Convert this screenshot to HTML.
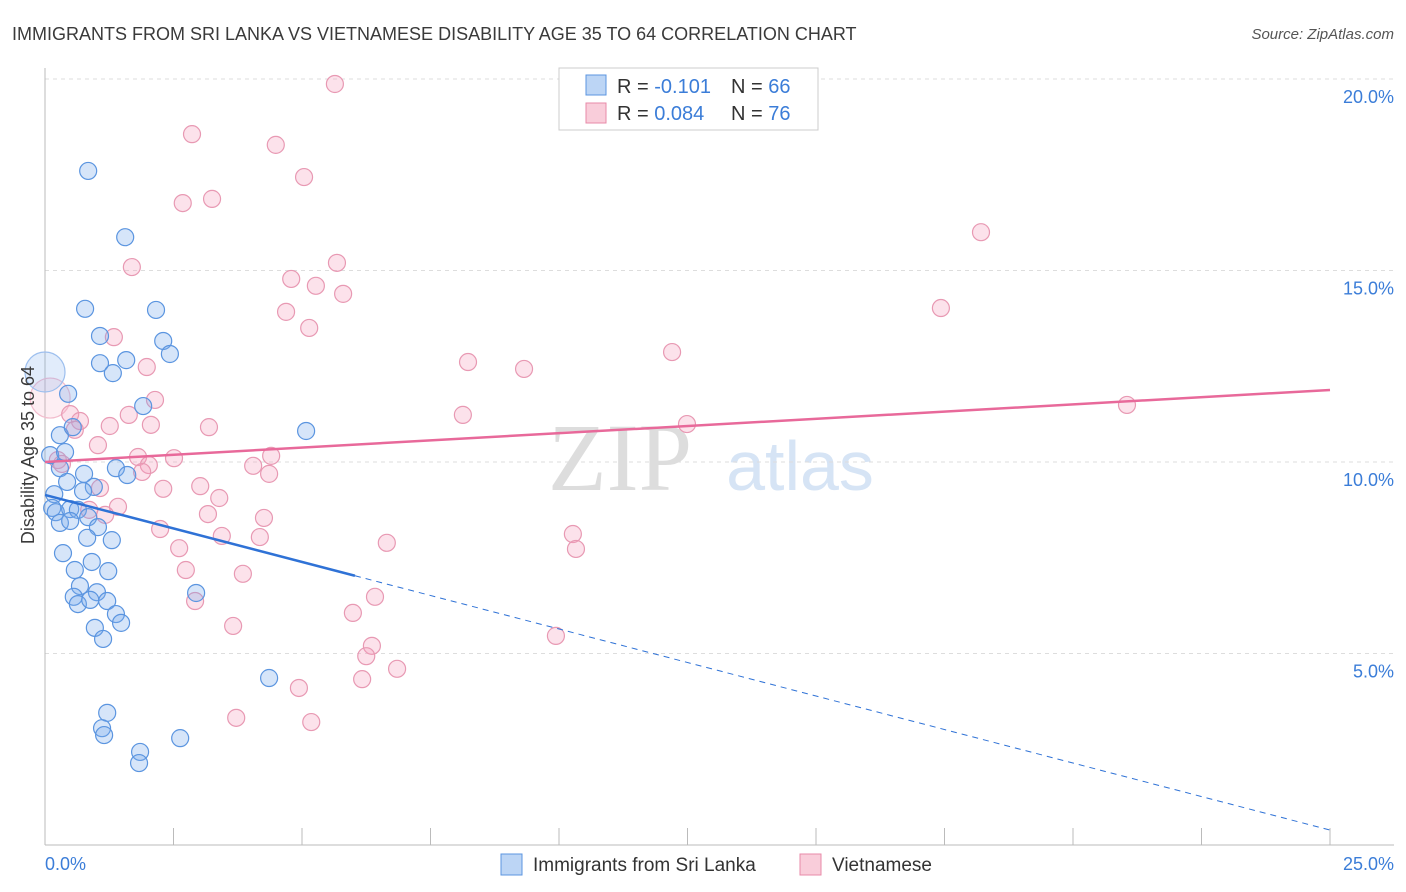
<!DOCTYPE html>
<html><head><meta charset="utf-8"><style>
body{margin:0;background:#fff;font-family:"Liberation Sans",sans-serif}
svg{display:block}
</style></head><body>
<svg width="1406" height="892" id="chart">
<text x="12" y="40" font-size="18" fill="#3a3a3a">IMMIGRANTS FROM SRI LANKA VS VIETNAMESE DISABILITY AGE 35 TO 64 CORRELATION CHART</text>
<text x="1394" y="39" font-size="15" fill="#555" font-style="italic" text-anchor="end">Source: ZipAtlas.com</text>
<text x="620" y="490" font-size="96" fill="#ddd" font-family="Liberation Serif,serif" text-anchor="middle">ZIP</text>
<text x="800" y="490" font-size="70" fill="#d6e4f5" text-anchor="middle">atlas</text>
<g id="grid"></g><g id="pts"></g><g id="lines"></g>
<text transform="translate(34,455) rotate(-90)" font-size="18" fill="#3a3a3a" text-anchor="middle">Disability Age 35 to 64</text>
<text x="45" y="870" font-size="18" fill="#3b7dd8">0.0%</text>
<text x="1394" y="870" font-size="18" fill="#3b7dd8" text-anchor="end">25.0%</text>
<g>
<rect x="501" y="854" width="21" height="21" fill="#bcd5f5" stroke="#5b95e0"/>
<text x="533" y="871" font-size="19" fill="#333">Immigrants from Sri Lanka</text>
<rect x="800" y="854" width="21" height="21" fill="#f9cdda" stroke="#e88aa8"/>
<text x="832" y="871" font-size="19" fill="#333">Vietnamese</text>
</g>
<g>
<rect x="559" y="68" width="259" height="62" fill="#fff" stroke="#ccc"/>
<rect x="586" y="75" width="20" height="20" fill="#bcd5f5" stroke="#5b95e0"/>
<rect x="586" y="103" width="20" height="20" fill="#f9cdda" stroke="#e88aa8"/>
<text x="617" y="93" font-size="20" fill="#333">R = <tspan fill="#3b7dd8">-0.101</tspan></text>
<text x="731" y="93" font-size="20" fill="#333">N = <tspan fill="#3b7dd8">66</tspan></text>
<text x="617" y="120" font-size="20" fill="#333">R = <tspan fill="#3b7dd8">0.084</tspan></text>
<text x="731" y="120" font-size="20" fill="#333">N = <tspan fill="#3b7dd8">76</tspan></text>
</g>
</svg>
<script>
const blueX=[0.84,1.56,0.78,2.16,1.07,2.30,2.43,1.07,1.58,1.32,0.45,1.91,0.29,5.08,0.54,0.1,0.39,0.29,0.76,1.38,1.6,0.18,0.43,0.95,0.74,0.14,0.21,0.49,0.64,0.84,0.29,0.49,1.03,0.82,1.3,0.35,0.91,1.23,0.58,0.68,0.56,0.64,1.01,0.88,1.21,1.38,1.48,2.94,0.97,1.13,4.36,1.21,1.11,1.15,1.85,1.83,2.63,0];
const blueY=[17.6,15.87,14.0,13.97,13.29,13.16,12.82,12.58,12.66,12.32,11.78,11.46,10.7,10.81,10.91,10.18,10.26,9.84,9.69,9.84,9.66,9.16,9.48,9.35,9.24,8.8,8.69,8.77,8.75,8.56,8.41,8.46,8.3,8.02,7.96,7.62,7.39,7.15,7.18,6.76,6.48,6.29,6.6,6.4,6.37,6.03,5.8,6.58,5.67,5.38,4.36,3.45,3.05,2.87,2.43,2.14,2.79,12.35];
const pinkX=[5.64,2.86,4.49,5.04,2.68,3.25,18.21,1.69,5.68,4.79,5.27,5.8,4.69,5.14,17.43,1.34,12.2,8.23,9.32,1.98,0.1,21.05,2.14,1.63,0.49,8.13,0.68,2.06,3.19,1.26,12.49,0.58,1.03,2.51,1.81,4.4,0.25,4.05,2.02,4.36,1.89,0.33,1.07,2.3,3.02,3.39,1.42,0.86,3.17,4.26,1.17,2.24,3.44,4.18,10.27,6.65,10.33,2.61,2.74,3.85,2.92,6.42,5.99,3.66,9.94,6.36,6.25,6.85,6.17,4.94,3.72,5.18];
const pinkY=[19.87,18.56,18.28,17.44,16.76,16.87,16.0,15.09,15.2,14.78,14.6,14.39,13.92,13.5,14.02,13.26,12.87,12.61,12.43,12.48,11.67,11.49,11.62,11.23,11.25,11.23,11.07,10.97,10.91,10.94,10.99,10.84,10.44,10.1,10.13,10.16,10.05,9.9,9.92,9.69,9.74,9.95,9.32,9.3,9.37,9.06,8.83,8.75,8.64,8.54,8.62,8.25,8.07,8.04,8.12,7.89,7.73,7.75,7.18,7.08,6.37,6.48,6.06,5.72,5.46,5.2,4.93,4.6,4.33,4.1,3.32,3.21];
const yTicks=[5,10,15,20];
const xTicks=[0,2.5,5,7.5,10,12.5,15,17.5,20,22.5,25];
const blueTrend=[9.14,0.39], pinkTrend=[10.0,11.88], blueSolidEnd=6.03;
const X=v=>45+v*51.4, Y=v=>845-v*38.3;
const NS='http://www.w3.org/2000/svg';
function mk(p,t,a){const e=document.createElementNS(NS,t);for(const k in a)e.setAttribute(k,a[k]);p.appendChild(e);return e;}
const g=document.getElementById('grid');
for(const t of yTicks){
 const l=mk(g,'line',{x1:45,x2:1394,y1:Y(t),y2:Y(t),stroke:'#ddd','stroke-dasharray':'4,4'});
 
 
 const tx=mk(g,'text',{x:1394,y:Y(t)+24,'font-size':18,fill:'#3b7dd8','text-anchor':'end'});tx.textContent=t.toFixed(1)+'%';
 
 
}
const ax=mk(g,'line',{x1:45,x2:1394,y1:845,y2:845,stroke:'#bbb'});


const ay=mk(g,'line',{x1:45,x2:45,y1:68,y2:845,stroke:'#bbb'});


for(const t of xTicks){const l=mk(g,'line',{x1:X(t),x2:X(t),y1:828,y2:845,stroke:'#bbb'});
 
 }
const pg=document.getElementById('pts');
pinkX.forEach((x,i)=>{const big=i==20;const c=mk(pg,'circle',{cx:X(x),cy:Y(pinkY[i]),r:big?20:8.5,fill:big?'rgba(244,160,190,0.18)':'rgba(244,160,190,0.3)',stroke:big?'#f2bccd':'#e899b3','stroke-width':1.2});
 
 });
blueX.forEach((x,i)=>{const big=i==blueX.length-1;const c=mk(pg,'circle',{cx:X(x),cy:Y(blueY[i]),r:big?20:8.5,fill:big?'rgba(120,170,235,0.22)':'rgba(120,170,235,0.3)',stroke:big?'#9dbfee':'#5b95e0','stroke-width':1.2});
 
 });
const lg=document.getElementById('lines');
const bAt=x=>blueTrend[0]+(blueTrend[1]-blueTrend[0])*x/25;
const l1=mk(lg,'line',{x1:X(0),y1:Y(pinkTrend[0]),x2:X(25),y2:Y(pinkTrend[1]),stroke:'#e8699a','stroke-width':2.5});


const l2=mk(lg,'line',{x1:X(0),y1:Y(bAt(0)),x2:X(blueSolidEnd),y2:Y(bAt(blueSolidEnd)),stroke:'#2f72d6','stroke-width':2.5});


const l3=mk(lg,'line',{x1:X(blueSolidEnd),y1:Y(bAt(blueSolidEnd)),x2:X(25),y2:Y(bAt(25)),stroke:'#2f72d6','stroke-width':1,'stroke-dasharray':'6,5'});


</script>
</body></html>
